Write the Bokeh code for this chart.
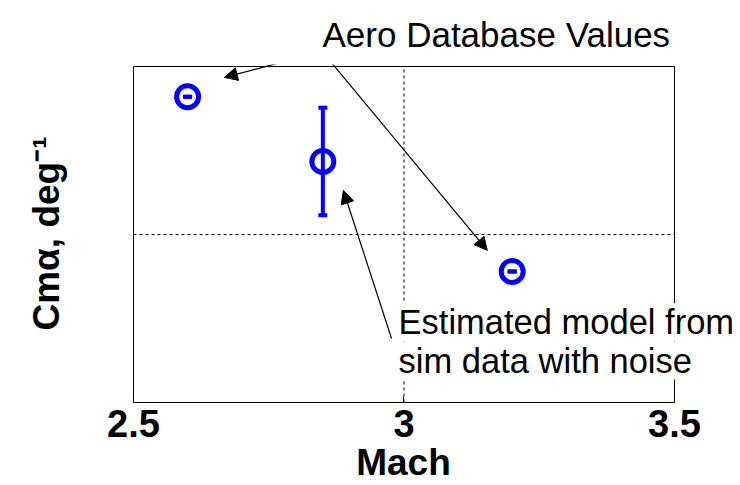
from bokeh.plotting import figure
from bokeh.models import (ColumnDataSource, Whisker, TeeHead, Arrow, NormalHead,
                          Label, FixedTicker, Range1d, BoxAnnotation, Title)
from bokeh.embed import file_html
from bokeh.resources import INLINE

# ---- data ----
mach = [2.6, 2.85, 3.2]
cma = [0.82, 0.435, -0.22]
err = [0.0, 0.32, 0.0]
x_ticks = [2.5, 3, 3.5]
x_tick_labels = {2.5: "2.5", 3: "3", 3.5: "3.5"}
xlim = (2.5, 3.5)
ylim = (-1.0, 1.0)
grid_x = 3.0
grid_y = 0.0

# annotation anchor points (data coords)
ann_apex = (2.849, 1.089)
ann_heads = [(2.668, 0.935), (3.154, -0.095)]
est_tail = (2.977, -0.619)
est_head = (2.888, 0.262)

BOLD = "'Liberation Sans', Arial"
REG = "'Liberation Sans', Arial"

# The frame is widened on both sides (kept centred on the axes box) so that
# the annotation crossing the right edge of the box is not clipped.
p = figure(width=740, height=485, output_backend="svg", toolbar_location=None,
           x_range=Range1d(2.3762, 3.622), y_range=Range1d(ylim[0], 1.012),
           min_border_left=66, min_border_right=0, min_border_top=64,
           min_border_bottom=83)
p.background_fill_color = "white"
p.border_fill_color = "white"
p.outline_line_color = None
p.xgrid.visible = False
p.ygrid.visible = False

# axes
p.xaxis.bounds = xlim
p.xaxis.ticker = FixedTicker(ticks=x_ticks)
p.xaxis.major_label_overrides = x_tick_labels
p.xaxis.major_tick_in = 6
p.xaxis.major_tick_out = 0
p.xaxis.major_tick_line_color = "black"
p.xaxis.minor_tick_line_color = None
p.xaxis.axis_line_color = "black"
p.xaxis.major_label_text_font = BOLD
p.xaxis.major_label_text_font_style = "bold"
p.xaxis.major_label_text_font_size = "38px"
p.xaxis.major_label_text_color = "black"
p.xaxis.major_label_standoff = 7
p.xaxis.axis_label = "Mach"
p.xaxis.axis_label_text_font = BOLD
p.xaxis.axis_label_text_font_style = "bold"
p.xaxis.axis_label_text_font_size = "37px"
p.xaxis.axis_label_text_color = "black"
p.xaxis.axis_label_standoff = 2

p.yaxis.bounds = ylim
p.yaxis.ticker = FixedTicker(ticks=[])
p.yaxis.major_tick_line_color = None
p.yaxis.minor_tick_line_color = None
p.yaxis.major_label_text_font_size = "0px"
p.yaxis.axis_line_color = None
p.yaxis.axis_label = "Cmα, deg⁻¹"
p.yaxis.axis_label_text_font = BOLD
p.yaxis.axis_label_text_font_style = "bold"
p.yaxis.axis_label_text_font_size = "37px"
p.yaxis.axis_label_text_color = "black"
p.yaxis.axis_label_standoff = 0

# axes box
p.add_layout(BoxAnnotation(left=xlim[0], right=xlim[1], bottom=ylim[0], top=ylim[1],
                           fill_alpha=0, line_color="black", line_width=1,
                           line_alpha=1))

# dotted grid lines, bounded to the axes box
p.segment(x0=[grid_x, xlim[0]], y0=[ylim[0], grid_y],
          x1=[grid_x, xlim[1]], y1=[ylim[1], grid_y],
          line_color="black", line_width=1, line_dash="3 3")

# data
src = ColumnDataSource(dict(x=mach, y=cma,
                            lo=[c - e for c, e in zip(cma, err)],
                            hi=[c + e for c, e in zip(cma, err)]))
w = Whisker(source=src, base="x", lower="lo", upper="hi",
            line_color="#0000ff", line_width=4,
            upper_head=TeeHead(size=9, line_color="#0000ff", line_width=4),
            lower_head=TeeHead(size=9, line_color="#0000ff", line_width=4))
p.add_layout(w)
p.scatter("x", "y", source=src, marker="circle", size=22, fill_color=None,
          line_color="#0000ff", line_width=5)


def head():
    return NormalHead(size=13, fill_color="black", line_color="black", line_width=1)


for hx, hy in ann_heads:
    p.add_layout(Arrow(x_start=ann_apex[0], y_start=ann_apex[1], x_end=hx, y_end=hy,
                       line_color="black", line_width=1.2, end=head()), "above")
p.add_layout(Arrow(x_start=est_tail[0], y_start=est_tail[1],
                   x_end=est_head[0], y_end=est_head[1],
                   line_color="black", line_width=1.2, end=head()))

p.add_layout(Title(text="Aero Database Values", align="left", offset=256,
                   standoff=22, text_font=REG, text_font_style="normal",
                   text_font_size="35px", text_color="black"), "above")

common = dict(text_font=REG, text_color="black", background_fill_color="white",
              text_baseline="alphabetic", text_align="left")
p.add_layout(Label(x=2.990, y=-0.523, text="Estimated model from",
                   text_font_size="34.5px", **common))
p.add_layout(Label(x=2.990, y=-0.75, text="sim data with noise",
                   text_font_size="34.5px", **common))

open("out.html", "w").write(file_html(p, INLINE))
